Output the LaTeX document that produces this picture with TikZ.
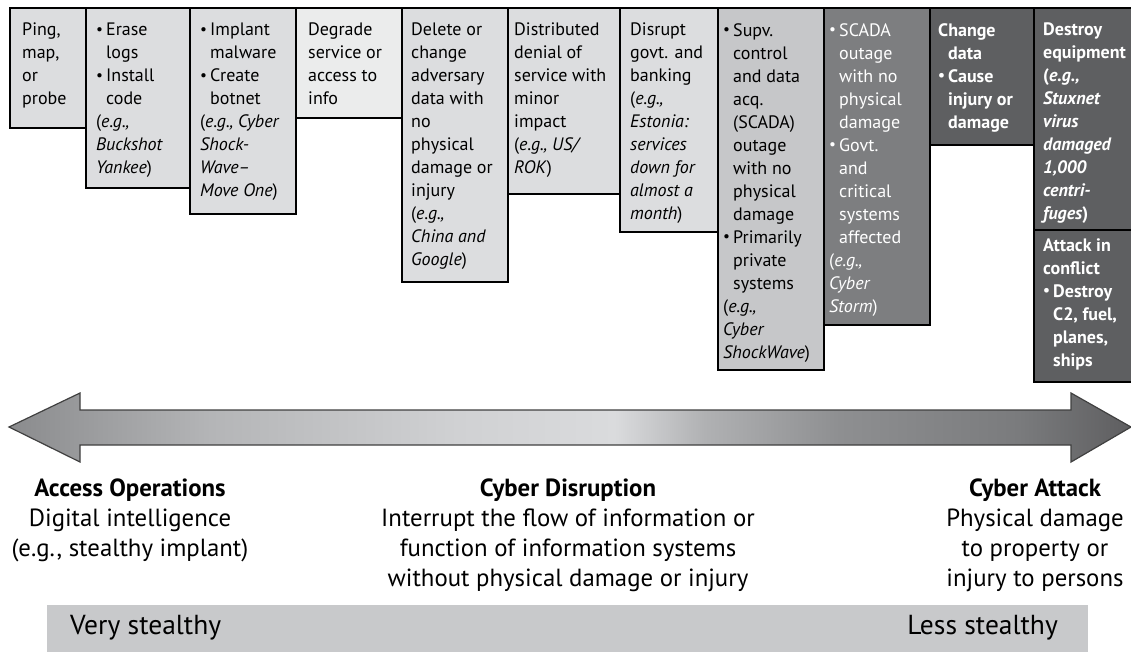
\documentclass[tikz,border=0pt]{standalone}
\usepackage{fontspec}
\setmainfont{PT Sans}
\usetikzlibrary{calc}
\definecolor{lbox}{HTML}{DCDDDF}
\definecolor{vlbox}{HTML}{EBECEC}
\definecolor{mbox}{HTML}{C6C7C9}
\definecolor{gbox}{HTML}{7D7E80}
\definecolor{dbox}{HTML}{5E5F61}
\definecolor{barc}{HTML}{C8C9CB}
\definecolor{arA}{HTML}{8A8B8D}
\definecolor{arB}{HTML}{B4B5B7}
\definecolor{arC}{HTML}{D0D1D3}
\definecolor{arD}{HTML}{DADBDD}
\definecolor{arE}{HTML}{B0B1B3}
\definecolor{arF}{HTML}{8E8F91}
\definecolor{arG}{HTML}{7A7B7D}
\definecolor{arH}{HTML}{5E5E60}
\pgfdeclarehorizontalshading{arrowshade}{100bp}{color(0bp)=(arA); color(25bp)=(arA); color(34bp)=(arB); color(45bp)=(arC); color(52bp)=(arD); color(56bp)=(arE); color(62bp)=(arF); color(70bp)=(arG); color(75bp)=(arH); color(100bp)=(arH)}
\newcommand\bl{\makebox[10pt][l]{\raisebox{1.5pt}{\scalebox{0.85}{•}}}}
\newcommand\ind{\hspace*{10pt}}
\begin{document}
\begin{tikzpicture}[x=1pt,y=-1pt,
  cell/.style={draw=black, line width=2.2pt, anchor=north west, inner sep=0pt, outer sep=0pt},
  txt/.style={anchor=north west, inner sep=0pt, align=left, font=\fontsize{18}{23}\selectfont},
  wtxt/.style={txt, text=white},
  btxt/.style={txt, text=white, font=\fontsize{18}{23}\selectfont\bfseries},
  lbl/.style={anchor=north, inner sep=0pt, align=center, font=\fontsize{24.8}{30}\selectfont},
  bartxt/.style={inner sep=0pt, font=\fontsize{27.5}{30}\selectfont}]
\useasboundingbox (0,0) rectangle (1131,651);
\clip (0,0) rectangle (1131,651);
% boxes
\node[cell, fill=lbox, minimum width=76pt, minimum height=120pt] (b1) at (10,8) {};
\node[cell, fill=lbox, minimum width=104pt, minimum height=180pt] (b2) at (86,8) {};
\node[cell, fill=lbox, minimum width=106pt, minimum height=206pt] (b3) at (190,8) {};
\node[cell, fill=vlbox, minimum width=106pt, minimum height=110pt] (b4) at (296,8) {};
\node[cell, fill=lbox, minimum width=106pt, minimum height=274pt] (b5) at (402,8) {};
\node[cell, fill=lbox, minimum width=112pt, minimum height=186pt] (b6) at (508,8) {};
\node[cell, fill=lbox, minimum width=98pt, minimum height=224pt] (b7) at (620,8) {};
\node[cell, fill=mbox, minimum width=106pt, minimum height=362pt] (b8) at (718,8) {};
\node[cell, fill=gbox, minimum width=106pt, minimum height=317pt] (b9) at (824,8) {};
\node[cell, fill=dbox, minimum width=104pt, minimum height=137pt] (b10) at (930,8) {};
\node[cell, fill=dbox, minimum width=110pt, minimum height=222pt] (b11) at (1034,8) {};
\node[cell, fill=dbox, minimum width=110pt, minimum height=152pt] (b12) at (1034,230) {};
% texts
\node[txt] (t1) at ($(b1.north west)+(12,15)$) {Ping,\\map,\\or\\probe};
\node[txt] (t2) at ($(b2.north west)+(10,15)$) {\bl Erase\\\ind logs\\\bl Install\\\ind code\\(\textit{e.g.,}\\\textit{Buckshot}\\\textit{Yankee})};
\node[txt] (t3) at ($(b3.north west)+(10,15)$) {\bl Implant\\\ind malware\\\bl Create\\\ind botnet\\(\textit{e.g., Cyber}\\\textit{Shock-}\\\textit{Wave–}\\\textit{Move One})};
\node[txt] (t4) at ($(b4.north west)+(12,15)$) {Degrade\\service or\\access to\\info};
\node[txt] (t5) at ($(b5.north west)+(9,15)$) {Delete or\\change\\adversary\\data with\\no\\physical\\damage or\\injury\\(\textit{e.g.,}\\\textit{China and}\\\textit{Google})};
\node[txt] (t6) at ($(b6.north west)+(6,15)$) {Distributed\\denial of\\service with\\minor\\impact\\(\textit{e.g., US/}\\\textit{ROK})};
\node[txt] (t7) at ($(b7.north west)+(10,15)$) {Disrupt\\govt. and\\banking\\(\textit{e.g.,}\\\textit{Estonia:}\\\textit{services}\\\textit{down for}\\\textit{almost a}\\\textit{month})};
\node[txt] (t8) at ($(b8.north west)+(5,15)$) {\bl Supv.\\\ind control\\\ind and data\\\ind acq.\\\ind (SCADA)\\\ind outage\\\ind with no\\\ind physical\\\ind damage\\\bl Primarily\\\ind private\\\ind systems\\(\textit{e.g.,}\\\textit{Cyber}\\\textit{ShockWave})};
\node[wtxt] (t9) at ($(b9.north west)+(5,15)$) {\bl SCADA\\\ind outage\\\ind with no\\\ind physical\\\ind damage\\\bl Govt.\\\ind and\\\ind critical\\\ind systems\\\ind affected\\(\textit{e.g.,}\\\textit{Cyber}\\\textit{Storm})};
\node[btxt] (t10) at ($(b10.north west)+(8,15)$) {Change\\\ind data\\\bl Cause\\\ind injury or\\\ind damage};
\node[btxt] (t11) at ($(b11.north west)+(9,15)$) {Destroy\\equipment\\(\textit{e.g.,}\\\textit{Stuxnet}\\\textit{virus}\\\textit{damaged}\\\textit{1,000}\\\textit{centri-}\\\textit{fuges})};
\node[btxt] (t12) at ($(b12.north west)+(9,8)$) {Attack in\\conflict\\\bl Destroy\\\ind C2, fuel,\\\ind planes,\\\ind ships};
% arrow
\coordinate (lt) at (9,427);
\coordinate (rt) at (1131,427);
\shade[shading=arrowshade] (lt) -- (80,393) -- (80,410) -- (1071,410) -- (1071,393) -- (rt) -- (1071,462) -- (1071,445) -- (80,445) -- (80,462) -- cycle;
\draw[black!75, line width=1.2pt, line join=miter] (lt) -- (80,393) -- (80,410) -- (1071,410) -- (1071,393) -- (rt) -- (1071,462) -- (1071,445) -- (80,445) -- (80,462) -- cycle;
% labels
\node[lbl] (l1) at (130,479) {\textbf{Access Operations}\\Digital intelligence\\(e.g., stealthy implant)};
\node[lbl] (l2) at (568,479) {\textbf{Cyber Disruption}\\Interrupt the flow of information or\\function of information systems\\without physical damage or injury};
\node[lbl] (l3) at (1035,479) {\textbf{Cyber Attack}\\Physical damage\\to property or\\injury to persons};
% bottom bar
\node[anchor=north west, fill=barc, inner sep=0pt, minimum width=1041pt, minimum height=50pt] (bar) at (47,605) {};
\node[bartxt, anchor=west] (vs) at (70,628) {Very stealthy};
\node[bartxt, anchor=east] (ls) at (1058,628) {Less stealthy};
\end{tikzpicture}
\end{document}
